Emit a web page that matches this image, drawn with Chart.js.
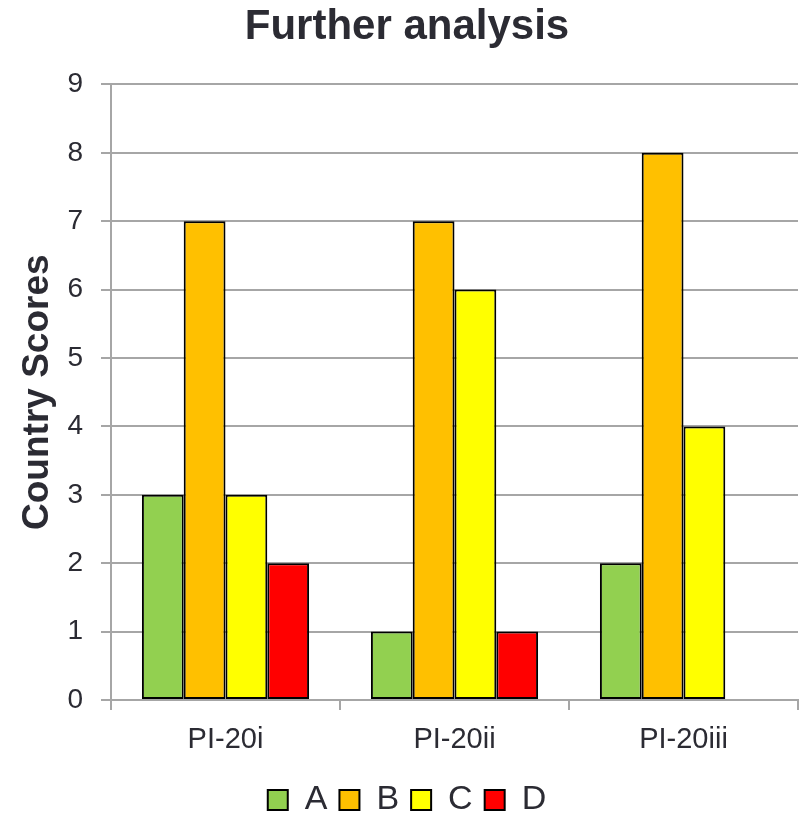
<!DOCTYPE html>
<html>
<head>
<meta charset="utf-8">
<script src="https://cdn.jsdelivr.net/npm/chart.js@4.4.1/dist/chart.umd.min.js"></script>
<style>
  html, body { margin: 0; padding: 0; background: #fff; }
  #wrap { width: 804px; height: 814px; }
</style>
</head>
<body>
<div id="wrap"><canvas id="myChart"></canvas></div>
<script>
// Chart data
const categories = ["PI-20i", "PI-20ii", "PI-20iii"];
const seriesA = [3, 1, 2];
const seriesB = [7, 7, 8];
const seriesC = [3, 6, 4];
const seriesD = [2, 1, null];
const yTicks = [0, 1, 2, 3, 4, 5, 6, 7, 8, 9];

const font = "'Liberation Sans', Arial, sans-serif";
const textColor = "#2b2b33";
const gridColor = "#a6a6a6";

const makeSet = (label, data, color) => ({
    label: label,
    data: data,
    backgroundColor: color,
    borderColor: "#000",
    borderWidth: 2,
    borderSkipped: false,
    categoryPercentage: 0.73,
    barPercentage: 1.0,
});

const ctx = document.getElementById("myChart").getContext("2d");
const myChart = new Chart(ctx, {
    type: "bar",
    data: {
        labels: categories,
        datasets: [
            makeSet("A", seriesA, "#92D050"),
            makeSet("B", seriesB, "#FFC000"),
            makeSet("C", seriesC, "#FFFF00"),
            makeSet("D", seriesD, "#FF0000"),
        ],
    },
    options: {
        responsive: true,
        maintainAspectRatio: false,
        animation: false,
        layout: { padding: { left: 16, right: 6, top: 0, bottom: -13 } },
        plugins: {
            title: {
                display: true,
                text: "Further analysis",
                color: textColor,
                font: { family: font, size: 42, weight: "bold" },
                padding: { top: 2, bottom: 32 },
            },
            legend: {
                position: "bottom",
                labels: {
                    color: textColor,
                    font: { family: font, size: 34 },
                    boxWidth: 20,
                    boxHeight: 20,
                    padding: 12,
                },
            },
            tooltip: { enabled: false },
        },
        scales: {
            x: {
                afterFit: (scale) => {
                    scale.height = 71;
                },
                grid: {
                    offset: true,
                    drawOnChartArea: false,
                    drawTicks: true,
                    tickLength: 10,
                    color: gridColor,
                    lineWidth: 2,
                },
                border: { color: gridColor, width: 2 },
                ticks: {
                    color: textColor,
                    font: { family: font, size: 29 },
                    padding: 13,
                },
            },
            y: {
                min: 0,
                max: 9,
                afterBuildTicks: (scale) => {
                    scale.ticks = yTicks.map((v) => ({ value: v }));
                },
                afterFit: (scale) => {
                    scale.width = 95;
                },
                title: {
                    display: true,
                    text: "Country Scores",
                    color: textColor,
                    font: { family: font, size: 37, weight: "bold" },
                    padding: { top: 0, bottom: 0 },
                },
                grid: {
                    color: gridColor,
                    lineWidth: 2,
                    tickLength: 10,
                },
                border: { color: gridColor, width: 2 },
                ticks: {
                    color: textColor,
                    font: { family: font, size: 28 },
                    padding: 18,
                },
            },
        },
    },
});
</script>
</body>
</html>
